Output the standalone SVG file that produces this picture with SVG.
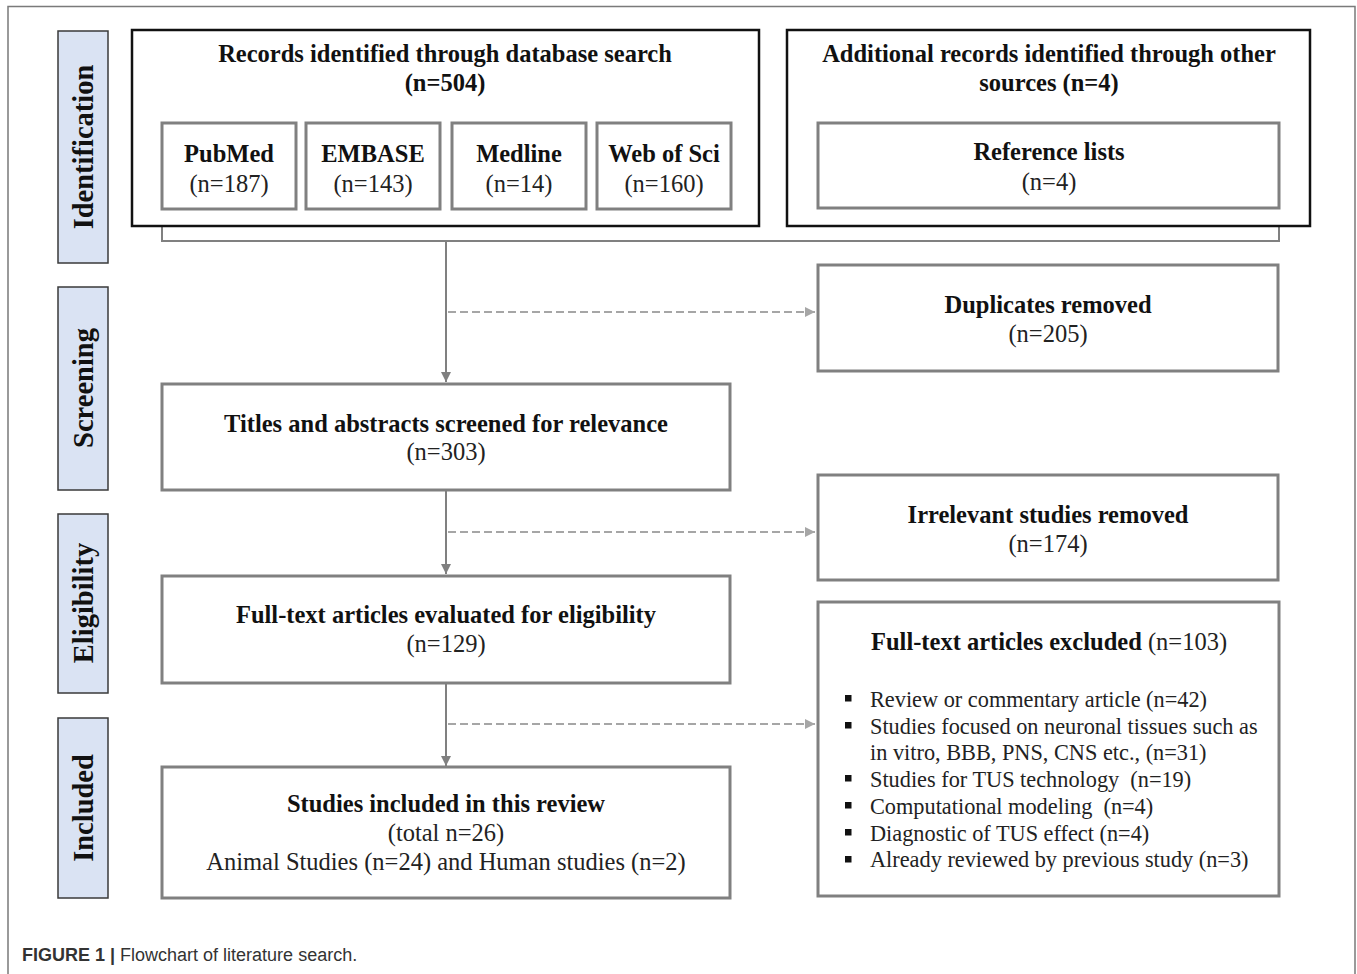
<svg xmlns="http://www.w3.org/2000/svg" width="1357" height="974" viewBox="0 0 1357 974">
<style>
text{font-family:"Liberation Serif","Times New Roman",serif;fill:#111;}
.b{font-weight:bold;font-size:24.5px;}
.r{font-size:24.5px;fill:#222;}
.li{font-size:22.3px;fill:#222;}
.side{fill:#dae3f3;stroke:#3a3a3a;stroke-width:1.5;}
.sl{font-weight:bold;font-size:28.5px;}
.big{fill:#fff;stroke:#111;stroke-width:2.5;}
.box{fill:#fff;stroke:#808080;stroke-width:3;}
.con{fill:none;stroke:#808080;stroke-width:2;}
.dash{fill:none;stroke:#a6a6a6;stroke-width:2;stroke-dasharray:8,4;}
.cap{font-family:"Liberation Sans",Arial,sans-serif;font-size:18px;fill:#333;}
</style>
<defs>
<marker id="ah" viewBox="0 0 10 10" refX="10" refY="5" markerWidth="5" markerHeight="5" orient="auto" markerUnits="strokeWidth">
<path d="M0,0 L10,5 L0,10 z" fill="#808080"/>
</marker>
<marker id="ahd" viewBox="0 0 10 10" refX="10" refY="5" markerWidth="5" markerHeight="5" orient="auto" markerUnits="strokeWidth">
<path d="M0,0 L10,5 L0,10 z" fill="#a6a6a6"/>
</marker>
</defs>
<rect width="1357" height="974" fill="#fff"/>
<path d="M8,974 V6.5 H1355 V974" fill="none" stroke="#7a7a7a" stroke-width="1.5"/>

<g id="side-identification"><rect class="side" x="58" y="31" width="50" height="232"/><text class="sl" transform="translate(93,147) rotate(-90)" text-anchor="middle">Identification</text></g>
<g id="side-screening"><rect class="side" x="58" y="287" width="50" height="203"/><text class="sl" transform="translate(93,388) rotate(-90)" text-anchor="middle">Screening</text></g>
<g id="side-eligibility"><rect class="side" x="58" y="514" width="50" height="179"/><text class="sl" transform="translate(93,603) rotate(-90)" text-anchor="middle">Eligibility</text></g>
<g id="side-included"><rect class="side" x="58" y="718" width="50" height="180"/><text class="sl" transform="translate(93,808) rotate(-90)" text-anchor="middle">Included</text></g>

<g id="connectors">
<path class="con" d="M162,226 V241 H1279 V226"/>
<line class="con" x1="446" y1="241" x2="446" y2="382" marker-end="url(#ah)"/>
<line class="con" x1="446" y1="490" x2="446" y2="574" marker-end="url(#ah)"/>
<line class="con" x1="446" y1="683" x2="446" y2="766" marker-end="url(#ah)"/>
<line class="dash" x1="448" y1="312" x2="815" y2="312" marker-end="url(#ahd)"/>
<line class="dash" x1="448" y1="532" x2="815" y2="532" marker-end="url(#ahd)"/>
<line class="dash" x1="448" y1="724" x2="815" y2="724" marker-end="url(#ahd)"/>
</g>

<g id="database-search">
<rect class="big" x="132" y="30" width="627" height="196"/>
<text class="b" x="445" y="62" text-anchor="middle">Records identified through database search</text>
<text class="b" x="445" y="91" text-anchor="middle">(n=504)</text>
</g>
<g id="pubmed"><rect class="box" x="162" y="123" width="134" height="86"/><text class="b" x="229" y="162" text-anchor="middle">PubMed</text><text class="r" x="229" y="192" text-anchor="middle">(n=187)</text></g>
<g id="embase"><rect class="box" x="306" y="123" width="134" height="86"/><text class="b" x="373" y="162" text-anchor="middle">EMBASE</text><text class="r" x="373" y="192" text-anchor="middle">(n=143)</text></g>
<g id="medline"><rect class="box" x="452" y="123" width="134" height="86"/><text class="b" x="519" y="162" text-anchor="middle">Medline</text><text class="r" x="519" y="192" text-anchor="middle">(n=14)</text></g>
<g id="webofsci"><rect class="box" x="597" y="123" width="134" height="86"/><text class="b" x="664" y="162" text-anchor="middle">Web of Sci</text><text class="r" x="664" y="192" text-anchor="middle">(n=160)</text></g>

<g id="other-sources">
<rect class="big" x="787" y="30" width="523" height="196"/>
<text class="b" x="1049" y="62" text-anchor="middle">Additional records identified through other</text>
<text class="b" x="1049" y="91" text-anchor="middle">sources (n=4)</text>
</g>
<g id="reference-lists"><rect class="box" x="818" y="123" width="461" height="85"/><text class="b" x="1049" y="160" text-anchor="middle">Reference lists</text><text class="r" x="1049" y="190" text-anchor="middle">(n=4)</text></g>

<g id="duplicates"><rect class="box" x="818" y="265" width="460" height="106"/><text class="b" x="1048" y="313" text-anchor="middle">Duplicates removed</text><text class="r" x="1048" y="342" text-anchor="middle">(n=205)</text></g>
<g id="titles"><rect class="box" x="162" y="384" width="568" height="106"/><text class="b" x="446" y="432" text-anchor="middle">Titles and abstracts screened for relevance</text><text class="r" x="446" y="460" text-anchor="middle">(n=303)</text></g>
<g id="irrelevant"><rect class="box" x="818" y="475" width="460" height="105"/><text class="b" x="1048" y="523" text-anchor="middle">Irrelevant studies removed</text><text class="r" x="1048" y="552" text-anchor="middle">(n=174)</text></g>
<g id="fulltext"><rect class="box" x="162" y="576" width="568" height="107"/><text class="b" x="446" y="623" text-anchor="middle">Full-text articles evaluated for eligibility</text><text class="r" x="446" y="652" text-anchor="middle">(n=129)</text></g>
<g id="excluded">
<rect class="box" x="818" y="602" width="461" height="294"/>
<text class="b" x="871" y="650">Full-text articles excluded <tspan style="font-weight:normal;fill:#222">(n=103)</tspan></text>
<g fill="#111"><rect x="845" y="695" width="6.5" height="6.5"/><rect x="845" y="722" width="6.5" height="6.5"/><rect x="845" y="775" width="6.5" height="6.5"/><rect x="845" y="802" width="6.5" height="6.5"/><rect x="845" y="829" width="6.5" height="6.5"/><rect x="845" y="856" width="6.5" height="6.5"/></g>
<text class="li" x="870" y="707">Review or commentary article (n=42)</text>
<text class="li" x="870" y="734">Studies focused on neuronal tissues such as</text>
<text class="li" x="870" y="760">in vitro, BBB, PNS, CNS etc., (n=31)</text>
<text class="li" x="870" y="787" xml:space="preserve">Studies for TUS technology  (n=19)</text>
<text class="li" x="870" y="814" xml:space="preserve">Computational modeling  (n=4)</text>
<text class="li" x="870" y="841">Diagnostic of TUS effect (n=4)</text>
<text class="li" x="870" y="867">Already reviewed by previous study (n=3)</text>
</g>
<g id="included"><rect class="box" x="162" y="767" width="568" height="131"/><text class="b" x="446" y="812" text-anchor="middle">Studies included in this review</text><text class="r" x="446" y="841" text-anchor="middle">(total n=26)</text><text class="r" x="446" y="870" text-anchor="middle">Animal Studies (n=24) and Human studies (n=2)</text></g>

<text class="cap" x="22" y="961"><tspan font-weight="bold">FIGURE 1 | </tspan>Flowchart of literature search.</text>
</svg>
